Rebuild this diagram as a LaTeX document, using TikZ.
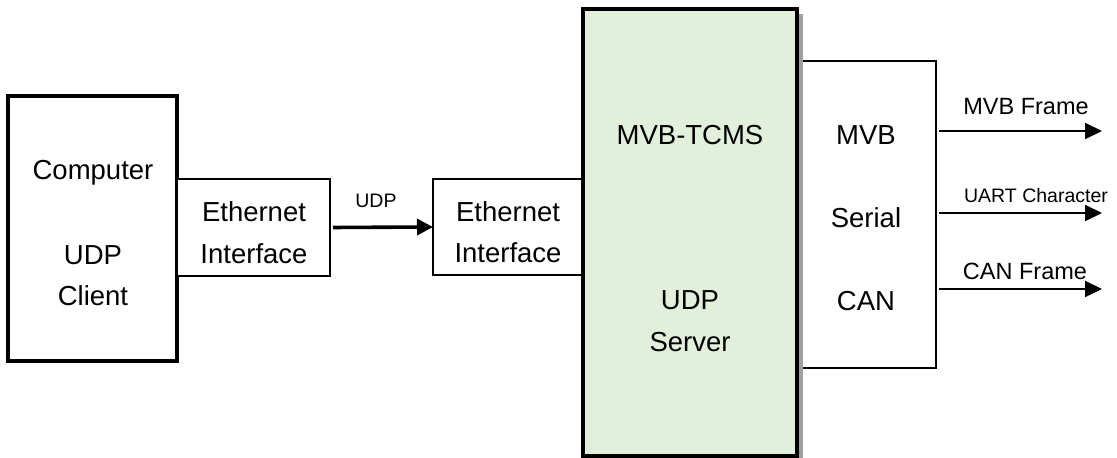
\documentclass[tikz,border=0pt]{standalone}
\usepackage{fontspec}
\setmainfont{Liberation Sans}
\usetikzlibrary{arrows.meta}
\definecolor{boxgreen}{HTML}{E2EFDA}
\begin{document}
\begin{tikzpicture}[x=1pt,y=-1pt,
  thickbox/.style={draw=black, line width=3.4pt, inner sep=0pt, outer sep=0pt, anchor=north west},
  thinbox/.style={draw=black, line width=1.6pt, fill=white, inner sep=0pt, outer sep=0pt, anchor=north west},
  bigtxt/.style={inner sep=0pt, anchor=base, font=\fontsize{27.5}{33}\selectfont},
  midtxt/.style={inner sep=0pt, anchor=base, font=\fontsize{23.5}{28}\selectfont},
  smalltxt/.style={inner sep=0pt, anchor=base, font=\fontsize{19.5}{23}\selectfont},
  bigarrow/.style={line width=3.6pt, -{Triangle[length=16pt,width=16pt]}},
  outarrow/.style={line width=2pt, -{Triangle[length=17pt,width=16pt]}}
]
\useasboundingbox (0,0) rectangle (1117,458);
% boxes
\node[thickbox, minimum width=169pt, minimum height=265pt] (pc) at (8,96) {};
\node[thinbox, minimum width=153pt, minimum height=97pt] (eth1) at (177,179) {};
\node[thinbox, minimum width=150pt, minimum height=96pt] (eth2) at (433,179) {};
\node[thinbox, minimum width=139pt, minimum height=307pt] (io) at (797,61) {};
\fill[gray!75] (588,14) rectangle (803,462);
\node[thickbox, fill=boxgreen, minimum width=214pt, minimum height=447pt] (srv) at (583,9) {};
% texts
\node[bigtxt] (t1) at (93,179) {Computer};
\node[bigtxt] (t2) at (93,264) {UDP};
\node[bigtxt] (t3) at (93,305) {Client};
\node[bigtxt] (t4) at (254,221) {Ethernet};
\node[bigtxt] (t5) at (254,263) {Interface};
\node[bigtxt] (t6) at (508,221) {Ethernet};
\node[bigtxt] (t7) at (508,262) {Interface};
\node[bigtxt] (t8) at (690,144) {MVB-TCMS};
\node[bigtxt] (t9) at (690,309) {UDP};
\node[bigtxt] (t10) at (690,351) {Server};
\node[bigtxt] (t11) at (866,144) {MVB};
\node[bigtxt] (t12) at (866,227) {Serial};
\node[bigtxt] (t13) at (866,310) {CAN};
\node[smalltxt] (udp) at (376,207) {UDP};
\node[midtxt] (l1) at (1026,114) {MVB Frame};
\node[smalltxt] (l2) at (1036,202) {UART Character};
\node[midtxt] (l3) at (1025,279) {CAN Frame};
% connectors
\draw[bigarrow, shorten <=3pt] (eth1.east) -- (eth2.west);
\coordinate (o1) at (1102,131);
\coordinate (o2) at (1102,213);
\coordinate (o3) at (1102,289);
\draw[outarrow, shorten <=3pt] (io.east |- o1) -- (o1);
\draw[outarrow, shorten <=3pt] (io.east |- o2) -- (o2);
\draw[outarrow, shorten <=3pt] (io.east |- o3) -- (o3);
\end{tikzpicture}
\end{document}
